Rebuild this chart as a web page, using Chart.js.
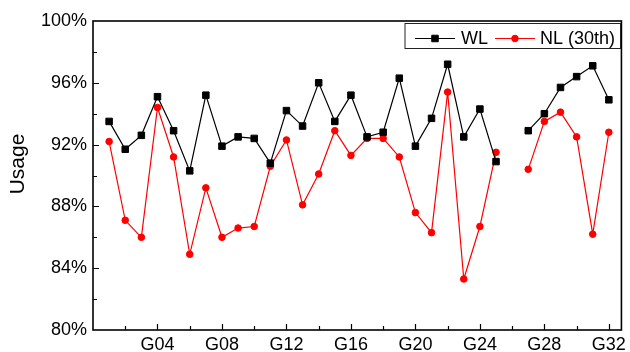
<!DOCTYPE html>
<html>
<head>
<meta charset="utf-8">
<script src="https://cdn.jsdelivr.net/npm/chart.js@4/dist/chart.umd.min.js"></script>
<style>
  html, body { margin: 0; padding: 0; background: #fff; }
  #wrap { width: 630px; height: 352px; }
</style>
</head>
<body>
<div id="wrap"><canvas id="c" width="630" height="352"></canvas></div>
<script>
const categories = ['G01','G02','G03','G04','G05','G06','G07','G08','G09','G10','G11','G12','G13','G14','G15','G16',
                    'G17','G18','G19','G20','G21','G22','G23','G24','G25','G26','G27','G28','G29','G30','G31','G32'];
const wlValues = [93.5, 91.7, 92.6, 95.1, 92.9, 90.3, 95.2, 91.9, 92.5, 92.4, 90.8, 94.2, 93.2, 96.0, 93.5, 95.2,
                  92.5, 92.8, 96.3, 91.9, 93.7, 97.2, 92.5, 94.3, 90.9, null, 92.9, 94.0, 95.7, 96.4, 97.1, 94.9];
const nlValues = [92.2, 87.1, 86.0, 94.4, 91.2, 84.9, 89.2, 86.0, 86.6, 86.7, 90.6, 92.3, 88.1, 90.1, 92.9, 91.3,
                  92.4, 92.4, 91.2, 87.6, 86.3, 95.4, 83.3, 86.7, 91.5, null, 90.4, 93.5, 94.1, 92.5, 86.2, 92.8];
const yTickValues = [80, 84, 88, 92, 96, 100];
const xTickLabels = ['G04','G08','G12','G16','G20','G24','G28','G32'];
const seriesNames = ['WL', 'NL (30th)'];
const yTitle = 'Usage';

const FONT = '"Liberation Sans", Arial, sans-serif';
Chart.defaults.font.family = FONT;
Chart.defaults.color = '#000';

const toPoints = arr => arr.map((v, i) => ({ x: i + 1, y: v }));

const framePlugin = {
  id: 'frame',
  afterDraw(chart) {
    const ctx = chart.ctx;
    const { left, top, right, bottom } = chart.chartArea;
    const xs = chart.scales.x, ys = chart.scales.y;
    ctx.save();
    ctx.strokeStyle = '#000';
    // inward ticks
    ctx.lineWidth = 1.2;
    ctx.beginPath();
    for (let v = 82; v < 100; v += 2) {
      const y = Math.round(ys.getPixelForValue(v)) + 0.5;
      const len = yTickValues.includes(v) ? 6 : 4;
      ctx.moveTo(left, y); ctx.lineTo(left + len, y);
    }
    for (let i = 2; i <= categories.length; i += 2) {
      const x = Math.round(xs.getPixelForValue(i)) + 0.5;
      const len = xTickLabels.includes(categories[i - 1]) ? 6 : 4;
      ctx.moveTo(x, bottom); ctx.lineTo(x, bottom - len);
    }
    ctx.stroke();
    // frame
    ctx.lineWidth = 1.6;
    ctx.strokeRect(left, top, right - left, bottom - top);

    // y title
    ctx.font = '21px ' + FONT;
    ctx.fillStyle = '#000';
    ctx.textAlign = 'center';
    ctx.textBaseline = 'middle';
    ctx.translate(18, 164);
    ctx.rotate(-Math.PI / 2);
    ctx.fillText(yTitle, 0, 0);
    ctx.restore();

    // legend
    ctx.save();
    const lx0 = 405, ly0 = 23.5, lx1 = 620.5, ly1 = 48.5;
    ctx.fillStyle = '#fff';
    ctx.fillRect(lx0, ly0, lx1 - lx0, ly1 - ly0);
    ctx.strokeStyle = '#222';
    ctx.lineWidth = 1;
    ctx.strokeRect(lx0, ly0, lx1 - lx0, ly1 - ly0);
    const cy = 38.5;
    const items = [{ x: 415, tx: 461 }, { x: 495, tx: 540 }];
    chart.data.datasets.forEach((ds, i) => {
      const it = items[i];
      ctx.strokeStyle = ds.borderColor;
      ctx.lineWidth = ds.borderWidth;
      ctx.beginPath();
      ctx.moveTo(it.x, cy); ctx.lineTo(it.x + 40, cy);
      ctx.stroke();
      ctx.fillStyle = ds.backgroundColor;
      ctx.strokeStyle = ds.borderColor;
      ctx.lineWidth = ds.pointBorderWidth;
      ctx.beginPath();
      if (ds.pointStyle === 'rect') {
        const s = Math.SQRT1_2 * ds.pointRadius;
        ctx.rect(it.x + 20 - s, cy - s, 2 * s, 2 * s);
      } else {
        ctx.arc(it.x + 20, cy, ds.pointRadius, 0, Math.PI * 2);
      }
      ctx.fill(); ctx.stroke();
      ctx.fillStyle = '#000';
      ctx.font = '18px ' + FONT;
      ctx.textAlign = 'left';
      ctx.textBaseline = 'middle';
      ctx.fillText(ds.label, it.tx, cy + 1);
    });
    ctx.restore();
  }
};

new Chart(document.getElementById('c'), {
  type: 'line',
  data: {
    datasets: [
      {
        label: seriesNames[0],
        data: toPoints(wlValues),
        borderColor: '#000000',
        backgroundColor: '#000000',
        borderWidth: 1.2,
        pointStyle: 'rect',
        pointRadius: 4.6,
        pointBorderWidth: 1,
        spanGaps: false,
        tension: 0
      },
      {
        label: seriesNames[1],
        data: toPoints(nlValues),
        borderColor: '#ff0000',
        backgroundColor: '#ff0000',
        borderWidth: 1.2,
        pointStyle: 'circle',
        pointRadius: 3.3,
        pointBorderWidth: 1,
        spanGaps: false,
        tension: 0
      }
    ]
  },
  options: {
    responsive: false,
    animation: false,
    events: [],
    layout: { padding: { top: 21, right: 4, left: 0, bottom: 0 } },
    plugins: { legend: { display: false }, tooltip: { enabled: false } },
    scales: {
      x: {
        type: 'linear',
        min: 0,
        max: 32.78,
        grid: { display: false, drawTicks: false, tickLength: 0 },
        border: { display: false },
        afterBuildTicks(scale) {
          scale.ticks = xTickLabels.map(l => ({ value: categories.indexOf(l) + 1 }));
        },
        afterFit(scale) { scale.height = 22; },
        ticks: {
          autoSkip: false,
          maxRotation: 0,
          padding: 4,
          font: { size: 18 },
          color: '#000',
          callback: v => categories[v - 1] || ''
        }
      },
      y: {
        min: 80,
        max: 100,
        grid: { display: false, drawTicks: false, tickLength: 0 },
        border: { display: false },
        afterBuildTicks(scale) {
          scale.ticks = yTickValues.map(v => ({ value: v }));
        },
        afterFit(scale) { scale.width = 93; },
        ticks: {
          padding: 6,
          font: { size: 18 },
          color: '#000',
          callback: v => v + '%'
        }
      }
    }
  },
  plugins: [framePlugin]
});
</script>
</body>
</html>
